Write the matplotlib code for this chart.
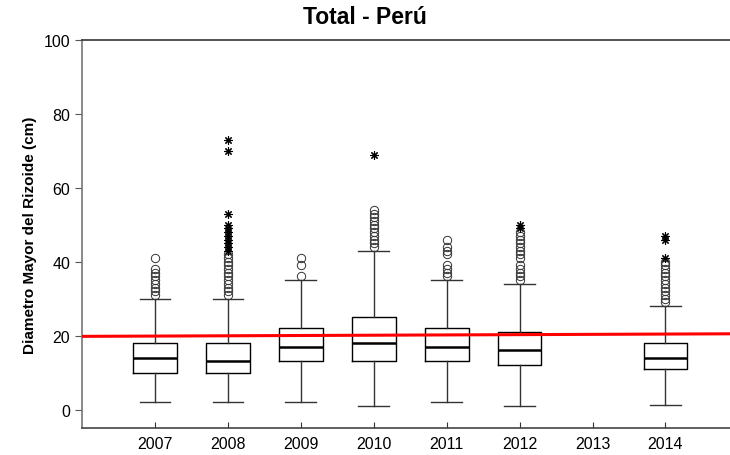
import matplotlib
matplotlib.use("Agg")
import matplotlib.pyplot as plt
import numpy as np

plt.rcParams['font.family'] = ['Liberation Sans', 'DejaVu Sans']

# box summary per year (2013 has no data)
years = [2007, 2008, 2009, 2010, 2011, 2012, 2014]
tick_years = [2007, 2008, 2009, 2010, 2011, 2012, 2013, 2014]
whislo = [2, 2, 2, 1, 2, 1, 1.3]
q1 = [10, 10, 13, 13, 13, 12, 11]
med = [14, 13.2, 17, 18, 17, 16, 14]
q3 = [18, 18, 22, 25, 22, 21, 18]
whishi = [30, 30, 35, 43, 35, 34, 28]

# outliers (circles)
outliers = [
    [31, 32, 33, 34, 35, 36, 37, 38, 41],
    [31, 32, 33, 34, 35, 36, 37, 38, 39, 40, 41, 42],
    [36, 39, 41],
    [44, 45, 46, 47, 48, 49, 50, 51, 52, 53, 54],
    [36, 37, 38, 39, 42, 43, 44, 46],
    [35, 36, 37, 38, 39, 41, 42, 43, 44, 45, 46, 47, 48],
    [29, 30, 31, 32, 33, 34, 35, 36, 37, 38, 39, 40],
]
# extremes (stars)
extremes = [
    [],
    [43, 44, 45, 46, 47, 48, 49, 50, 53, 70, 73],
    [],
    [69],
    [],
    [49, 50],
    [41, 46, 47],
]

ref_x = [2006, 2015]
ref_y = [19.8, 20.5]

TITLE = 'Total - Perú'
YLABEL = 'Diametro Mayor del Rizoide (cm)'

fig = plt.figure(figsize=(7.3, 4.56), dpi=100)
ax = fig.add_axes([82 / 730, 27 / 456, 652 / 730, 388 / 456])

stats = []
for i in range(len(years)):
    stats.append(dict(med=med[i], q1=q1[i], q3=q3[i], whislo=whislo[i],
                      whishi=whishi[i], fliers=outliers[i]))

ax.bxp(stats, positions=years, widths=0.6, showfliers=True,
       boxprops=dict(color='black', linewidth=1.0),
       medianprops=dict(color='black', linewidth=1.8),
       whiskerprops=dict(color='#333333', linewidth=1.0),
       capprops=dict(color='#333333', linewidth=1.0),
       capwidths=0.42,
       flierprops=dict(marker='o', markersize=6, markerfacecolor='none',
                       markeredgecolor='#333333', markeredgewidth=0.7))

for yr, ex in zip(years, extremes):
    if ex:
        ax.plot([yr] * len(ex), ex, linestyle='none', marker=(8, 2, 0),
                markersize=6, color='black', markeredgewidth=0.8)

ax.plot(ref_x, ref_y, color='#ff0000', linewidth=2.2, zorder=5)

ax.set_xlim(2006, 2014.94)
ax.set_ylim(-5, 100)
ax.set_xticks(tick_years)
ax.set_xticklabels([str(y) for y in tick_years], fontsize=11.5)
ax.set_yticks([0, 20, 40, 60, 80, 100])
ax.tick_params(axis='y', labelsize=11.5, direction='out', length=5, color='#555555')
ax.tick_params(axis='x', direction='in', length=4, pad=6, color='#333333')

ax.spines['right'].set_visible(False)
ax.spines['left'].set_color('#777777')
ax.spines['bottom'].set_color('#444444')
ax.spines['top'].set_color('#333333')
for s in ax.spines.values():
    s.set_linewidth(1.2)

ax.set_ylabel(YLABEL, fontsize=11, fontweight='bold',
              family=['Liberation Sans Narrow', 'Liberation Sans'], labelpad=5)
fig.text(0.5, 0.962, TITLE, fontsize=16.5, fontweight='bold', ha='center', va='center')

fig.savefig('out.png', dpi=100)
